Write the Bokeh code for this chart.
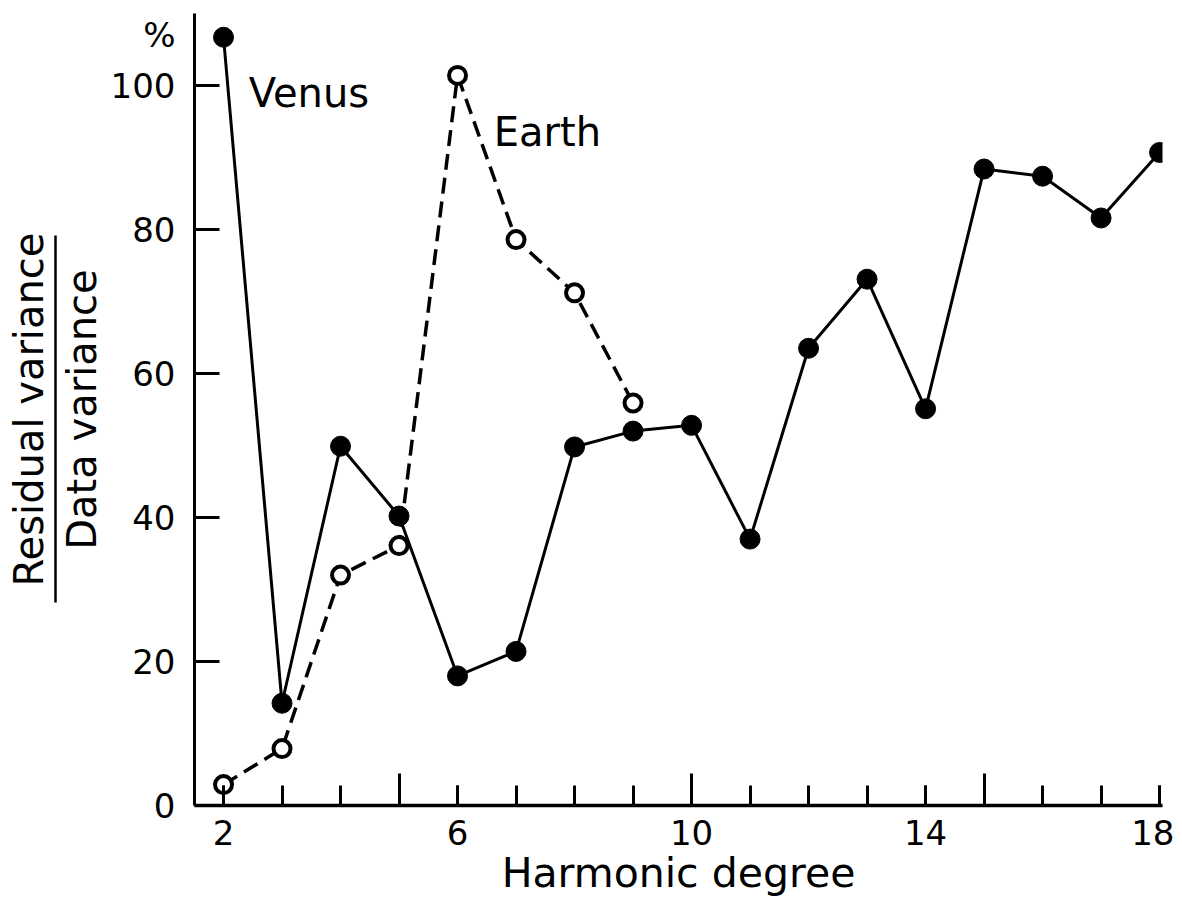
from bokeh.plotting import figure
from bokeh.models import Range1d, LinearAxis, FixedTicker, Label
from bokeh.embed import file_html
from bokeh.resources import INLINE

# ---- data ----
degree_venus = [2, 3, 4, 5, 6, 7, 8, 9, 10, 11, 12, 13, 14, 15, 16, 17, 18]
venus = [106.7, 14.2, 49.9, 40.2, 18.0, 21.4, 49.8, 52.0, 52.8, 37.0,
         63.5, 73.1, 55.1, 88.4, 87.4, 81.6, 90.7]
degree_earth = [2, 3, 4, 5, 6, 7, 8, 9]
earth = [2.9, 7.9, 32.0, 36.1, 101.4, 78.6, 71.2, 55.9]

x_label_ticks = [2, 6, 10, 14, 18]
x_long_ticks = [5, 10, 15]
x_short_ticks = list(range(2, 19))
y_ticks = [0, 20, 40, 60, 80, 100]
y_unit_pos = 107          # where the "%" unit sign sits on the y axis
y_fraction_bar = (28.2, 79.2)   # extent of the fraction bar in the y title

FONT = "DejaVu Sans"

p = figure(width=1174, height=901,
           x_range=Range1d(1.504, 18.05), y_range=Range1d(0, 110),
           x_axis_type=None, y_axis_type=None,
           output_backend="svg", toolbar_location=None,
           min_border_left=194, min_border_right=12,
           min_border_top=13, min_border_bottom=96)
p.outline_line_color = None
p.background_fill_color = "white"
p.border_fill_color = "white"

# bottom axis: labels at 2, 6, 10, 14, 18 and short ticks at every degree
ax_x = LinearAxis(ticker=FixedTicker(ticks=x_label_ticks, minor_ticks=x_short_ticks),
                  major_tick_in=20, major_tick_out=0,
                  minor_tick_in=20, minor_tick_out=0,
                  axis_line_width=3.5, major_tick_line_width=3,
                  minor_tick_line_width=3,
                  axis_line_color="black", major_tick_line_color="black",
                  minor_tick_line_color="black",
                  major_label_text_font=FONT,
                  major_label_text_font_size="34px",
                  major_label_text_color="black",
                  major_label_standoff=14,
                  axis_label="Harmonic degree",
                  axis_label_text_font=FONT,
                  axis_label_text_font_size="41px",
                  axis_label_text_font_style="normal",
                  axis_label_text_color="black",
                  axis_label_standoff=1)
p.add_layout(ax_x, "below")

# long ticks at 5, 10, 15 drawn on the same baseline (y = 0)
ax_long = LinearAxis(ticker=FixedTicker(ticks=[], minor_ticks=x_long_ticks),
                     fixed_location=0,
                     axis_line_color=None, major_tick_line_color=None,
                     minor_tick_in=32, minor_tick_out=0,
                     minor_tick_line_width=3, minor_tick_line_color="black")
p.add_layout(ax_long, "below")

# left axis: labels (plus the % sign), tick marks drawn as minor ticks,
# and the denominator of the title as axis label
ax_y = LinearAxis(ticker=FixedTicker(ticks=y_ticks + [y_unit_pos], minor_ticks=y_ticks),
                  major_label_overrides={y_unit_pos: "%"},
                  major_tick_in=0, major_tick_out=0,
                  major_tick_line_color=None,
                  minor_tick_in=25, minor_tick_out=0,
                  minor_tick_line_width=3, minor_tick_line_color="black",
                  axis_line_width=3, axis_line_color="black",
                  major_label_text_font=FONT,
                  major_label_text_font_size="34px",
                  major_label_text_color="black",
                  major_label_standoff=19,
                  axis_label="Data variance",
                  axis_label_text_font=FONT,
                  axis_label_text_font_size="40px",
                  axis_label_text_font_style="normal",
                  axis_label_text_color="black",
                  axis_label_standoff=3)
p.add_layout(ax_y, "left")

# numerator of the title; its axis line is the fraction bar
ax_num = LinearAxis(ticker=FixedTicker(ticks=[], minor_ticks=[]),
                    bounds=y_fraction_bar,
                    axis_line_width=2.5, axis_line_color="black",
                    major_tick_line_color=None, minor_tick_line_color=None,
                    major_tick_in=0, major_tick_out=0,
                    major_label_standoff=0,
                    axis_label="Residual variance",
                    axis_label_text_font=FONT,
                    axis_label_text_font_size="40px",
                    axis_label_text_font_style="normal",
                    axis_label_text_color="black",
                    axis_label_standoff=4)
p.add_layout(ax_num, "left")

# data
p.line(degree_venus, venus, line_width=3, line_color="black")
p.scatter(degree_venus, venus, size=20, fill_color="black", line_color="black")
p.line(degree_earth, earth, line_width=3.5, line_color="black", line_dash="16 8")
p.scatter(degree_earth, earth, size=17, fill_color="white", line_color="black",
          line_width=4)

# series annotations
p.add_layout(Label(x=2.43, y=99.0, text="Venus", text_font=FONT,
                   text_font_size="40px", text_color="black",
                   text_align="left", text_baseline="alphabetic"))
p.add_layout(Label(x=6.62, y=93.5, text="Earth", text_font=FONT,
                   text_font_size="40px", text_color="black",
                   text_align="left", text_baseline="alphabetic"))

open("out.html", "w").write(file_html(p, INLINE))
